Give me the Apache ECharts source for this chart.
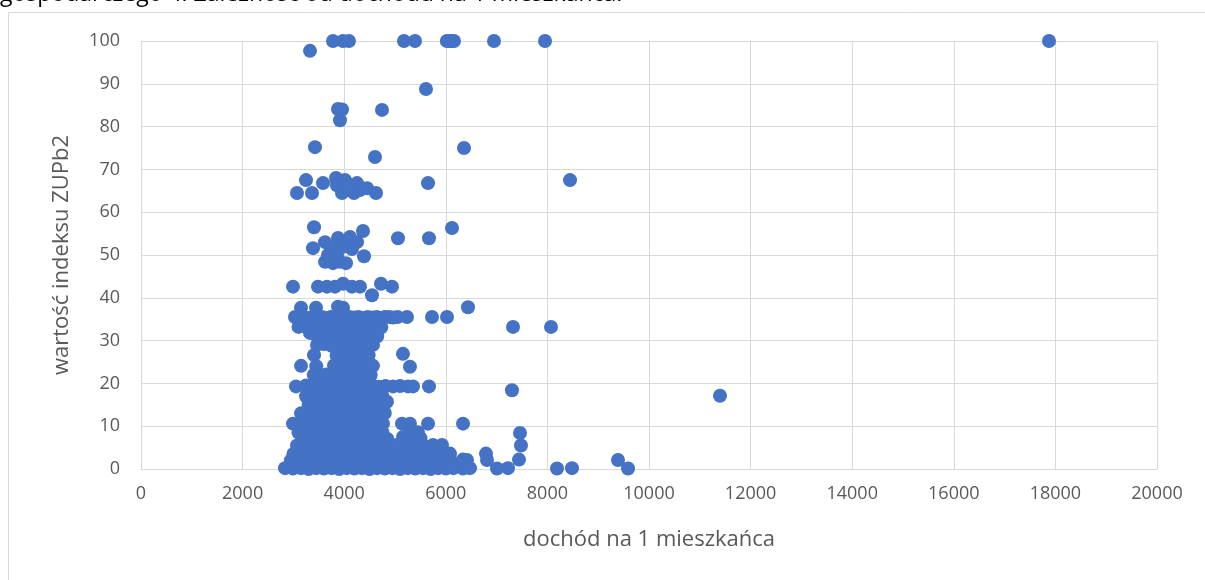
<!DOCTYPE html>
<html>
<head>
<meta charset="utf-8">
<script src="https://cdn.jsdelivr.net/npm/echarts@6/dist/echarts.min.js"></script>
<style>html,body{margin:0;padding:0;background:#fff;}#c{width:1205px;height:580px;}</style>
</head>
<body>
<div id="c"></div>
<script>
const titleText = 'gospodarczego 4. Zależność od dochodu na 1 mieszkańca.';
const xAxisName = 'dochód na 1 mieszkańca';
const yAxisName = 'wartość indeksu ZUPb2';
const xTicks = [0, 2000, 4000, 6000, 8000, 10000, 12000, 14000, 16000, 18000, 20000];
const yTicks = [0, 10, 20, 30, 40, 50, 60, 70, 80, 90, 100];

// [dochód, wartość indeksu]
const pointsHigh = [
  [3780,100],[3976,100],[4094,100],[5177,100],[5394,100],[6020,100],[6063,100],[6110,100],[6161,100],[6949,100],[7953,100],[17874,100],
  [3327,97.7],[5610,88.8],[3878,84.1],[3957,84.0],[3917,81.5],[4744,83.9],
  [3425,75.2],[4606,72.9],[6358,75.0],[8445,67.5]
];
const points60 = [
  [3248,67.5],[3071,64.5],[3366,64.5],[3583,66.8],[3839,68.0],[4016,67.5],[4252,66.8],[3957,64.5],[4193,64.5],
  [4449,65.6],[4626,64.5],[5650,66.8],[3858,66.3],[4114,66.0],[4311,65.2]
];
const points40 = [
  [3406,56.5],[4370,55.6],[5059,53.9],[5669,53.9],[6122,56.3],[3622,53.0],[3386,51.6],[3878,54.0],[4114,54.2],[4252,53.0],
  [3760,51.6],[3976,51.9],[4153,51.4],[4390,49.7],[3622,48.4],[3780,48.1],[3917,48.4],[4035,48.1],[3681,50.0],[3858,50.0],
  [2992,42.6],[3484,42.6],[3661,42.6],[3819,42.6],[3976,43.3],[4153,42.6],[4311,42.6],[4724,43.3],[4941,42.6],[4547,40.6],
  [3150,37.7],[3445,37.7],[3878,37.9],[3976,37.7],[6437,37.8]
];
const points30 = [
  [3031,35.5],[3100,35.3],[3200,35.5],[3300,35.3],[3380,35.5],[3480,35.4],[3560,35.5],[3650,35.3],[3740,35.5],[3830,35.4],
  [3920,35.5],[4010,35.3],[4100,35.5],[4190,35.4],[4280,35.5],[4370,35.3],[4460,35.5],[4550,35.4],[4640,35.5],[4720,35.3],
  [4800,35.5],[4880,35.5],[4960,35.4],[5050,35.5],[5236,35.5],[5728,35.5],[6024,35.5],
  [3100,33.2],[3200,33.4],[3290,33.0],[3380,33.3],[3470,33.1],[3560,33.3],[3650,33.0],[3740,33.3],[3830,33.1],[3920,33.2],
  [4010,33.0],[4100,33.3],[4190,33.1],[4280,33.3],[4370,33.0],[4460,33.2],[4550,33.0],[4640,33.3],[4730,33.1],
  [7323,33.2],[8071,33.2],
  [3327,31.8],[3450,31.3],[3600,31.0],[3750,31.5],[3900,31.2],[4050,31.0],[4200,31.4],[4350,31.0],[4500,31.3],[4650,31.0],
  [3465,29.0],[3600,29.2],[3750,28.8],[3900,29.1],[4050,28.9],[4200,29.2],[4350,28.8],[4567,29.0]
];
const points20 = [
  [3406,26.6],[3850,26.5],[3980,26.8],[4110,26.4],[4240,26.7],[4370,26.5],[4480,26.6],[5157,26.9],
  [3150,24.1],[3450,24.0],[3800,24.2],[3950,23.9],[4100,24.1],[4250,24.0],[4400,24.2],[4567,24.1],[5295,23.9],
  [3400,22.0],[3500,21.8],[3650,22.1],[3800,21.9],[3950,22.0],[4100,22.2],[4250,21.8],[4400,22.0],[4520,21.9],
  [3051,19.3],[3250,19.5],[3380,19.2],[3510,19.4],[3640,19.6],[3770,19.3],[3900,19.5],[4030,19.2],[4160,19.4],[4290,19.5],
  [4420,19.3],[4550,19.5],[4680,19.2],[4810,19.4],[4961,19.3],[5100,19.4],[5256,19.3],[5354,19.3],[5669,19.3],
  [7303,18.4],[11398,17.1],
  [3250,17.0],[3400,17.2],[3550,16.9],[3700,17.1],[3850,17.0],[4000,17.2],[4150,16.8],[4300,17.1],[4450,17.0],[4600,16.9],[4750,17.1]
];
const points10 = [
  [3300,15.0],[3450,15.2],[3600,14.9],[3750,15.1],[3900,15.0],[4050,15.2],[4200,14.8],[4350,15.1],[4500,15.0],[4650,14.9],[4842,15.7],
  [3150,13.0],[3300,12.8],[3450,13.1],[3600,12.9],[3750,13.0],[3900,13.2],[4050,12.8],[4200,13.1],[4350,12.9],[4500,13.0],[4650,12.8],[4800,13.1],
  [2992,10.6],[3150,10.5],[3280,10.7],[3410,10.4],[3540,10.6],[3670,10.5],[3800,10.7],[3930,10.4],[4060,10.6],[4190,10.5],
  [4320,10.7],[4450,10.4],[4580,10.6],[4764,10.6],[5138,10.6],[5295,10.6],[5650,10.6],[6339,10.6]
];
const points0 = [
  [3100,8.5],[3250,8.7],[3400,8.4],[3550,8.6],[3700,8.5],[3850,8.7],[4000,8.4],[4150,8.6],[4300,8.5],[4450,8.7],[4600,8.4],[4750,8.6],[5300,8.4],[5450,8.6],[7461,8.4],
  [3200,7.0],[3350,7.2],[3500,6.9],[3650,7.1],[3800,7.0],[3950,7.2],[4100,6.8],[4250,7.1],[4400,7.0],[4550,6.9],[4700,7.1],[4850,7.0],[5157,7.5],[5350,7.0],[5500,7.2],
  [3071,5.5],[3230,5.6],[3380,5.4],[3530,5.6],[3680,5.5],[3830,5.3],[3980,5.6],[4130,5.4],[4280,5.5],[4430,5.6],[4580,5.4],
  [4730,5.5],[4880,5.3],[5030,5.6],[5250,5.5],[5400,5.4],[5550,5.6],[5748,5.6],[5925,5.6],[7480,5.5],
  [3000,3.5],[3150,3.6],[3300,3.4],[3450,3.6],[3600,3.5],[3750,3.3],[3900,3.6],[4050,3.4],[4200,3.5],[4350,3.6],[4500,3.4],
  [4650,3.5],[4800,3.6],[4950,3.3],[5100,3.5],[5250,3.6],[5400,3.4],[5550,3.5],[5700,3.6],[5850,3.4],[6083,3.6],[6791,3.6],
  [2950,2.0],[3100,1.9],[3250,2.1],[3400,1.8],[3550,2.0],[3700,2.2],[3850,1.9],[4000,2.0],[4150,2.1],[4300,1.8],[4450,2.0],
  [4600,2.2],[4750,1.9],[4900,2.0],[5050,2.1],[5200,1.8],[5350,2.0],[5500,2.1],[5650,1.9],[5800,2.0],[5950,2.2],[6100,1.9],
  [6339,2.2],[6417,2.1],[6811,2.1],[7441,2.2],[9390,2.1],
  [2835,0.2],[2992,0.1],[3150,0.2],[3300,0.0],[3450,0.2],[3600,0.1],[3750,0.2],[3900,0.0],[4050,0.2],[4200,0.1],[4350,0.2],
  [4500,0.0],[4650,0.2],[4800,0.1],[4950,0.2],[5100,0.0],[5250,0.2],[5400,0.1],[5550,0.2],[5700,0.0],[5850,0.2],[6000,0.1],
  [6150,0.2],[6339,0.1],[6476,0.2],[7008,0.1],[7224,0.2],[8189,0.1],[8484,0.2],[9587,0.1]
];

const allPoints = [].concat(pointsHigh, points60, points40, points30, points20, points10, points0);

const chart = echarts.init(document.getElementById('c'), null, {renderer: 'canvas'});
const labelFont = '"Open Sans", "Noto Sans", sans-serif';
chart.setOption({
  animation: false,
  backgroundColor: '#ffffff',
  graphic: [
    {type: 'rect', shape: {x: 8.5, y: 12.5, width: 1400, height: 800}, style: {fill: 'none', stroke: '#D9D9D9', lineWidth: 1}, z: -1},
    {type: 'text', x: 0, y: -17, style: {text: titleText, fontSize: 23, fontFamily: labelFont, fill: '#000000', verticalAlign: 'top'}}
  ],
  grid: {left: 141, right: 48, top: 41, bottom: 111, containLabel: false},
  xAxis: {
    type: 'value', min: xTicks[0], max: xTicks[xTicks.length - 1], interval: 2000,
    name: xAxisName, nameLocation: 'middle', nameGap: 60,
    nameTextStyle: {fontSize: 22, color: '#595959', fontFamily: labelFont},
    axisLine: {show: true, lineStyle: {color: '#D9D9D9'}},
    axisTick: {show: false},
    axisLabel: {fontSize: 18, color: '#595959', fontFamily: labelFont, margin: 16, formatter: v => String(v)},
    splitLine: {show: true, lineStyle: {color: '#D9D9D9', width: 1}}
  },
  yAxis: {
    type: 'value', min: yTicks[0], max: yTicks[yTicks.length - 1], interval: 10,
    name: yAxisName, nameLocation: 'middle', nameGap: 68,
    nameTextStyle: {fontSize: 22, color: '#595959', fontFamily: labelFont},
    axisLine: {show: false},
    axisTick: {show: false},
    axisLabel: {fontSize: 18, color: '#595959', fontFamily: labelFont, margin: 21, formatter: v => String(v)},
    splitLine: {show: true, lineStyle: {color: '#D9D9D9', width: 1}}
  },
  series: [{
    type: 'scatter',
    data: allPoints,
    symbol: 'circle',
    symbolSize: 14,
    itemStyle: {color: '#4472C4', opacity: 1},
    emphasis: {disabled: true}
  }]
});
</script>
</body>
</html>
